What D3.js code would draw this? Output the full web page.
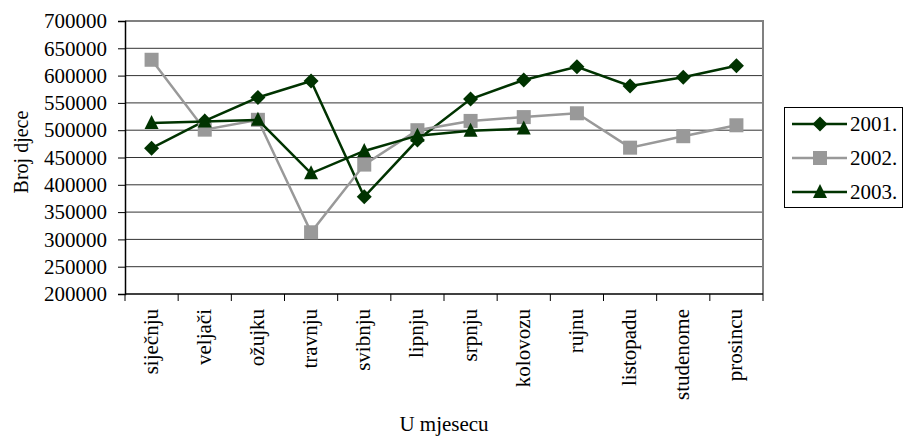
<!DOCTYPE html>
<html><head><meta charset="utf-8">
<script src="https://cdn.jsdelivr.net/npm/d3@7"></script>
<style>body{margin:0;background:#fff}svg{display:block}</style>
</head><body>
<svg id="c" width="904" height="436"></svg>
<script>
const months = ["siječnju","veljači","ožujku","travnju","svibnju","lipnju","srpnju","kolovozu","rujnu","listopadu","studenome","prosincu"];
const yTicks = [200000,250000,300000,350000,400000,450000,500000,550000,600000,650000,700000];
const years = ["2001.","2002.","2003."];
const s2001 = [467000,517000,560000,590000,378000,482000,557000,592000,616000,581000,597000,618000];
const s2002 = [629000,501000,519000,313000,437000,500000,517000,524000,531000,468000,489000,509000];
const s2003 = [513000,516000,519000,421000,462000,490000,499000,503000];

const FONT = "Liberation Serif, Tinos, Times New Roman, DejaVu Serif, serif";
const FS = 21;
const series = [
  {name: years[0], values: s2001, color: "#003300", marker: "diamond"},
  {name: years[1], values: s2002, color: "#999999", marker: "square"},
  {name: years[2], values: s2003, color: "#003300", marker: "triangle"}
];

const svg = d3.select("#c");
const L = 125, R = 763, T = 21, B = 294;
const x = d3.scaleBand().domain(months).range([L, R]);
const y = d3.scaleLinear().domain([200000, 700000]).range([B, T]);

svg.append("g").selectAll("line").data(yTicks.slice(1)).join("line")
  .attr("x1", L).attr("x2", R).attr("y1", d => y(d)).attr("y2", d => y(d))
  .attr("stroke", d => d === 700000 ? "#808080" : "#333")
  .attr("stroke-width", d => d === 700000 ? 2 : 1);
svg.append("line").attr("x1", R).attr("x2", R).attr("y1", T - 1).attr("y2", B)
  .attr("stroke", "#808080").attr("stroke-width", 2);

const ya = svg.append("g").attr("transform", `translate(${L},0)`)
  .call(d3.axisLeft(y).tickValues(yTicks).tickSize(7).tickPadding(11).tickFormat(d3.format("d")));
ya.attr("font-family", FONT).attr("font-size", FS);
ya.select(".domain").attr("stroke", "#000").attr("stroke-width", 1.5);
ya.selectAll(".tick line").attr("stroke", "#000");
ya.selectAll(".tick text").attr("fill", "#000");

const xa = svg.append("g").attr("transform", `translate(0,${B})`).attr("font-family", FONT).attr("font-size", FS);
xa.append("line").attr("x1", L).attr("x2", R).attr("y1", 0).attr("y2", 0).attr("stroke", "#000").attr("stroke-width", 1.5);
const bounds = months.map(m => x(m)).concat([R]);
xa.selectAll("line.tk").data(bounds).join("line").attr("class", "tk")
  .attr("x1", d => d).attr("x2", d => d).attr("y1", 0).attr("y2", 7).attr("stroke", "#000");
xa.selectAll("text").data(months).join("text")
  .attr("transform", d => `translate(${x(d) + x.bandwidth()/2 + 6},15) rotate(-90)`)
  .attr("text-anchor", "end").text(d => d);

svg.append("text").attr("transform", "translate(28,152) rotate(-90)").attr("text-anchor", "middle")
  .attr("font-family", FONT).attr("font-size", 20).text("Broj djece");
svg.append("text").attr("x", (L + R) / 2).attr("y", 431).attr("text-anchor", "middle")
  .attr("font-family", FONT).attr("font-size", FS).text("U mjesecu");

function drawMarker(g, type, cx, cy, color) {
  if (type === "diamond") {
    const r = 7.5;
    g.append("path").attr("d", `M${cx},${cy-r}L${cx+r},${cy}L${cx},${cy+r}L${cx-r},${cy}Z`).attr("fill", color);
  } else if (type === "square") {
    const r = 7;
    g.append("rect").attr("x", cx-r).attr("y", cy-r).attr("width", 2*r).attr("height", 2*r).attr("fill", color);
  } else {
    const r = 7;
    g.append("path").attr("d", `M${cx},${cy-r-1}L${cx+r},${cy+r-1}L${cx-r},${cy+r-1}Z`).attr("fill", color);
  }
}

const line = d3.line().x((d, i) => x(months[i]) + x.bandwidth()/2).y(d => y(d));
series.forEach(s => {
  const g = svg.append("g");
  g.append("path").attr("d", line(s.values)).attr("fill", "none").attr("stroke", s.color).attr("stroke-width", 2.5);
  s.values.forEach((v, i) => drawMarker(g, s.marker, x(months[i]) + x.bandwidth()/2, y(v), s.color));
});

const lg = svg.append("g").attr("font-family", FONT).attr("font-size", FS);
lg.append("rect").attr("x", 784.5).attr("y", 107.5).attr("width", 118).attr("height", 100)
  .attr("fill", "#fff").attr("stroke", "#000").attr("stroke-width", 1);
series.forEach((s, i) => {
  const cy = 124 + i * 34;
  lg.append("line").attr("x1", 792).attr("x2", 847).attr("y1", cy).attr("y2", cy).attr("stroke", s.color).attr("stroke-width", 2.5);
  drawMarker(lg, s.marker, 820, cy, s.color);
  lg.append("text").attr("x", 850).attr("y", cy + 7).text(s.name);
});
</script>
</body></html>
